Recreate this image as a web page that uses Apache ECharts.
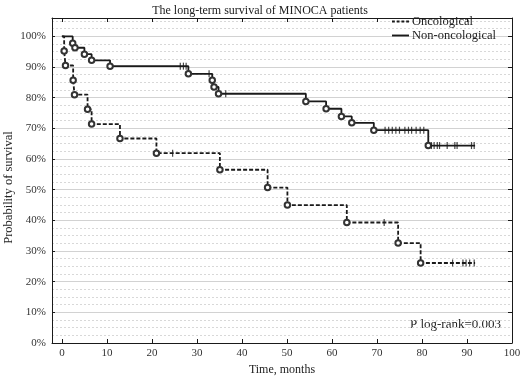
<!DOCTYPE html>
<html>
<head>
<meta charset="utf-8">
<script src="https://cdn.jsdelivr.net/npm/echarts@6/dist/echarts.min.js"></script>
<style>html,body{margin:0;padding:0;background:#fff}#c{width:520px;height:381px}</style>
</head>
<body>
<div id="c"></div>
<script>
// ---- data ----
var xTicks = [0, 10, 20, 30, 40, 50, 60, 70, 80, 90, 100];
var seriesNames = ['Oncological', 'Non-oncological'];

// Oncological: event times (months) and survival (%) after each event
var oncoTimes  = [0.5, 0.8, 2.5, 2.8, 5.7, 6.6, 12.9, 21.0, 35.1, 45.7, 50.1, 63.3, 74.7, 79.7];
var oncoSurv   = [95.2, 90.5, 85.7, 81.0, 76.2, 71.4, 66.7, 61.9, 56.5, 50.7, 45.0, 39.3, 32.6, 26.1];
var oncoCensor = [24.6, 71.6, 86.8, 89.1, 89.8, 90.6, 91.6];
var oncoEnd    = 91.8;

// Non-oncological
var nonTimes   = [2.4, 2.9, 5.0, 6.6, 10.7, 28.1, 33.4, 33.8, 34.8, 54.2, 58.7, 62.1, 64.4, 69.3, 81.4];
var nonSurv    = [97.8, 96.3, 94.2, 92.2, 90.3, 87.8, 85.7, 83.5, 81.3, 78.8, 76.4, 73.9, 71.8, 69.4, 64.4];
var nonCensor  = [26.3, 27.0, 27.6, 32.7, 36.4, 71.8, 72.6, 73.4, 74.2, 75.0, 76.2, 77.0, 77.7, 78.7, 79.6, 80.4,
                  82.1, 82.7, 83.4, 83.9, 85.6, 87.3, 87.8, 91.0, 91.6];
var nonEnd     = 91.8;

var pText = 'P log-rank=0.003';

// ---- helpers ----
function stepData(times, surv, end) {
  var d = [{ value: [0, 100], symbol: 'none' }];
  for (var i = 0; i < times.length; i++) d.push({ value: [times[i], surv[i]] });
  d.push({ value: [end, surv[surv.length - 1]], symbol: 'none' });
  return d;
}
function survAt(times, surv, t) {
  var v = 100;
  for (var i = 0; i < times.length; i++) if (times[i] <= t) v = surv[i];
  return v;
}
function censorData(times, surv, cens) {
  return cens.map(function (t) { return [t, survAt(times, surv, t)]; });
}

var FONT = 'Liberation Serif';
var ink = '#1a1a1a';

var chart = echarts.init(document.getElementById('c'), null, { renderer: 'canvas' });
chart.setOption({
  animation: false,
  backgroundColor: '#fff',
  textStyle: { fontFamily: FONT },
  title: {
    text: 'The long-term survival of MINOCA patients',
    left: 'center', top: 0,
    textStyle: { fontFamily: FONT, fontSize: 12, fontWeight: 'normal', color: '#222' }
  },
  legend: {
    orient: 'vertical', left: 387, top: 10,
    itemWidth: 17, itemHeight: 2, itemGap: 1,
    itemStyle: { borderWidth: 0, color: ink },
    textStyle: { fontFamily: FONT, fontSize: 12.5, color: '#222', padding: [0, 0, 0, -2] },
    data: [
      { name: seriesNames[0], icon: 'path://M0 0h3v2h-3zM5 0h3v2h-3zM10 0h3v2h-3zM15 0h3v2h-3z' },
      { name: seriesNames[1], icon: 'path://M0 0h18v2h-18z' }
    ]
  },
  grid: { left: 52, right: 8, top: 18, bottom: 38, outerBoundsMode: 'none', containLabel: false },
  xAxis: [{
    type: 'value', min: -2.2, max: 100, position: 'bottom',
    name: 'Time, months', nameLocation: 'middle', nameGap: 19,
    nameTextStyle: { fontFamily: FONT, fontSize: 12, color: '#222' },
    axisLine: { show: true, onZero: false, lineStyle: { color: ink, width: 1 } },
    axisTick: { show: true, inside: true, length: 4, customValues: xTicks, lineStyle: { color: ink } },
    axisLabel: { customValues: xTicks, fontFamily: FONT, fontSize: 11, color: '#333', margin: 5 },
    splitLine: { show: false }
  }, {
    type: 'value', min: -2.2, max: 100, position: 'top',
    axisLine: { show: true, onZero: false, lineStyle: { color: ink, width: 1 } },
    axisTick: { show: true, inside: true, length: 4, customValues: xTicks, lineStyle: { color: ink } },
    axisLabel: { show: false },
    splitLine: { show: false }
  }],
  yAxis: [{
    type: 'value', min: 0, max: 106, interval: 10, position: 'left',
    name: 'Probability of survival', nameLocation: 'middle', nameGap: 37, nameMoveOverlap: false,
    nameTextStyle: { fontFamily: FONT, fontSize: 12.5, color: '#222', padding: [0, 14, 0, 0] },
    axisLine: { show: true, onZero: false, lineStyle: { color: ink, width: 1 } },
    axisTick: { show: true, inside: true, length: 3, lineStyle: { color: ink } },
    axisLabel: {
      fontFamily: FONT, fontSize: 11, color: '#333', margin: 6,
      formatter: function (v) { return (v % 10 === 0 && v <= 100) ? v + '%' : ''; }
    },
    splitLine: { show: true, lineStyle: { color: '#d2d2d2', width: 1 } },
    minorTick: { show: false, splitNumber: 4 },
    minorSplitLine: { show: true, lineStyle: { color: '#d8d8d8', type: [2, 2], width: 1 } }
  }, {
    type: 'value', min: 0, max: 106, interval: 10, position: 'right',
    axisLine: { show: true, onZero: false, lineStyle: { color: ink, width: 1 } },
    axisTick: { show: true, inside: true, length: 4, lineStyle: { color: ink } },
    axisLabel: { show: false },
    splitLine: { show: false }
  }],
  series: [{
    name: seriesNames[0], type: 'line', step: 'end',
    data: stepData(oncoTimes, oncoSurv, oncoEnd),
    symbol: 'emptyCircle', symbolSize: 5.5, showSymbol: true,
    itemStyle: { color: '#333', borderColor: '#333', borderWidth: 1 },
    lineStyle: { color: ink, width: 1.8, type: [4, 2] },
    z: 3
  }, {
    name: seriesNames[1], type: 'line', step: 'end',
    data: stepData(nonTimes, nonSurv, nonEnd),
    symbol: 'emptyCircle', symbolSize: 5.5, showSymbol: true,
    itemStyle: { color: '#333', borderColor: '#333', borderWidth: 1 },
    lineStyle: { color: ink, width: 1.8 },
    z: 3
  }, {
    name: 'onco-censor', type: 'scatter',
    data: censorData(oncoTimes, oncoSurv, oncoCensor),
    symbol: 'rect', symbolSize: [1.2, 7],
    itemStyle: { color: ink }, z: 4
  }, {
    name: 'non-censor', type: 'scatter',
    data: censorData(nonTimes, nonSurv, nonCensor),
    symbol: 'rect', symbolSize: [1.2, 7],
    itemStyle: { color: ink }, z: 4
  }],
  graphic: [{
    type: 'text', right: 19, top: 318,
    style: { text: pText, font: '13px "Liberation Serif"', fill: '#222' }
  }]
});
</script>
</body>
</html>
